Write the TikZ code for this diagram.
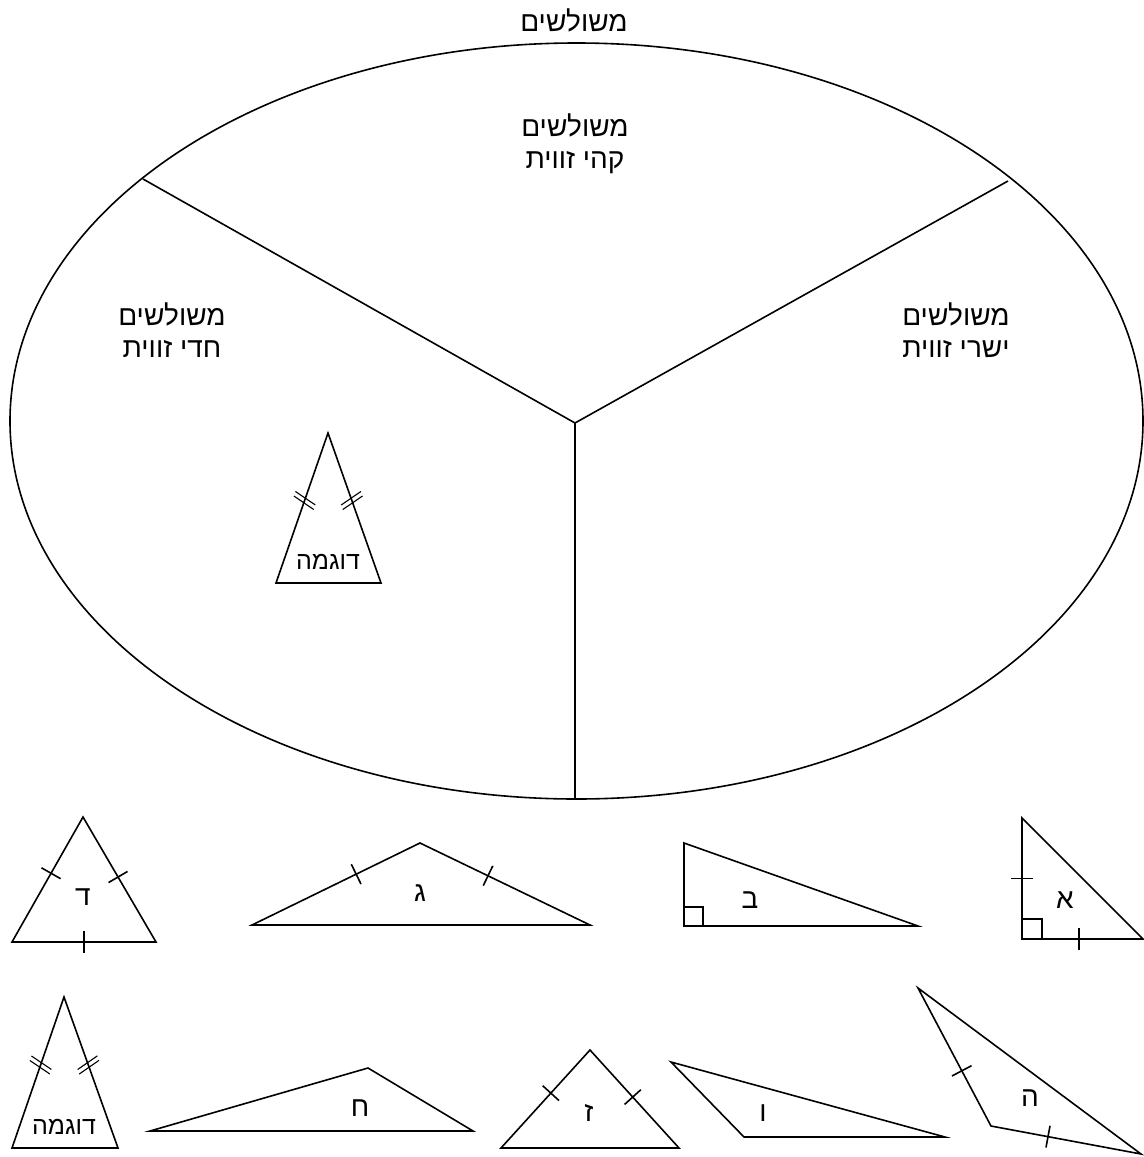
\documentclass[tikz,border=0pt]{standalone}
\usepackage{fontspec}
\setmainfont{Liberation Sans}
\newfontfamily\hebfont[Script=Hebrew]{Liberation Sans}
\TeXXeTstate=1
\usetikzlibrary{calc}

\newcommand{\heb}[1]{\beginR #1\endR}
% single and double side marks
\newcommand{\tickmark}[3]{\draw[shape line] ($(#1)!#3!(#2)!5.5pt!90:(#2)$) -- ($(#1)!#3!(#2)!5.5pt!-90:(#2)$);}
\newcommand{\dtickmark}[4]{%
  \draw[shape line, line width=0.55pt] ($(#1)!#3!(#2)!1.2pt!(#2)!6pt!#4:(#2)$) -- ($(#1)!#3!(#2)!1.2pt!(#2)!6pt!#4+180:(#2)$);
  \draw[shape line, line width=0.55pt] ($(#1)!#3!(#2)!-1.2pt!(#2)!6pt!#4:(#2)$) -- ($(#1)!#3!(#2)!-1.2pt!(#2)!6pt!#4+180:(#2)$);}

\tikzset{
  shape line/.style={line width=0.8pt, line join=miter},
  label text/.style={font=\hebfont\fontsize{14}{16}\selectfont, align=center, inner sep=0pt},
  example text/.style={font=\hebfont\fontsize{12.5}{14}\selectfont, inner sep=0pt},
}

\begin{document}
\begin{tikzpicture}[x=0.5pt, y=-0.5pt]
  \useasboundingbox (0,0) rectangle (1144,1157);

  % the big ellipse and its three parts
  \node[label text] (title) at (574,20) {\heb{משולשים}};
  \draw[shape line] (576.5,421) ellipse [x radius=283.25pt, y radius=189pt];
  \coordinate (hub) at (575,423);
  \coordinate (rimL) at (143,179);
  \coordinate (rimR) at (1008,181);
  \coordinate (rimB) at (575,799);
  \draw[shape line] (hub) -- (rimL);
  \draw[shape line] (hub) -- (rimR);
  \draw[shape line] (hub) -- (rimB);

  \node[label text] (obtuse) at (575,144) {\heb{משולשים}\\\heb{קהי זווית}};
  \node[label text] (acute) at (172,330) {\heb{משולשים}\\\heb{חדי זווית}};
  \node[label text] (right) at (956,330) {\heb{משולשים}\\\heb{ישרי זווית}};

  % example inside the ellipse
  \coordinate (e1) at (328,433);
  \coordinate (e2) at (276,583);
  \coordinate (e3) at (381,583);
  \draw[shape line] (e1) -- (e2) -- (e3) -- cycle;
  \dtickmark{e2}{e1}{0.55}{75}
  \dtickmark{e3}{e1}{0.55}{-75}
  \node[example text] (exampleA) at (328,562) {\heb{דוגמה}};

  % first row
  \coordinate (d1) at (83,817);
  \coordinate (d2) at (12,942);
  \coordinate (d3) at (156,942);
  \draw[shape line] (d1) -- (d2) -- (d3) -- cycle;
  \tickmark{d2}{d1}{0.55}
  \tickmark{d3}{d1}{0.52}
  \tickmark{d2}{d3}{0.5}
  \node[label text] (dalet) at (83,897) {\heb{ד}};

  \coordinate (g1) at (420,843);
  \coordinate (g2) at (252,925);
  \coordinate (g3) at (590,925);
  \draw[shape line] (g1) -- (g2) -- (g3) -- cycle;
  \tickmark{g2}{g1}{0.62}
  \tickmark{g3}{g1}{0.6}
  \node[label text] (gimel) at (420,893) {\heb{ג}};

  \coordinate (b1) at (684,843);
  \coordinate (b2) at (684,926);
  \coordinate (b3) at (918,926);
  \draw[shape line] (b1) -- (b2) -- (b3) -- cycle;
  \draw[shape line] (684,907) -- (703,907) -- (703,926);
  \node[label text] (bet) at (750,900) {\heb{ב}};

  \coordinate (a1) at (1022,818);
  \coordinate (a2) at (1022,939);
  \coordinate (a3) at (1143,939);
  \draw[shape line] (a1) -- (a2) -- (a3) -- cycle;
  \draw[shape line] (1022,919) -- (1042,919) -- (1042,939);
  \tickmark{a2}{a1}{0.5}
  \tickmark{a2}{a3}{0.47}
  \node[label text] (alef) at (1065,900) {\heb{א}};

  % second row
  \coordinate (x1) at (64,997);
  \coordinate (x2) at (12,1148);
  \coordinate (x3) at (118,1148);
  \draw[shape line] (x1) -- (x2) -- (x3) -- cycle;
  \dtickmark{x2}{x1}{0.55}{75}
  \dtickmark{x3}{x1}{0.55}{-75}
  \node[example text] (exampleB) at (64,1127) {\heb{דוגמה}};

  \coordinate (h1) at (368,1068);
  \coordinate (h2) at (150,1131);
  \coordinate (h3) at (473,1131);
  \draw[shape line] (h1) -- (h2) -- (h3) -- cycle;
  \node[label text] (het) at (360,1108) {\heb{ח}};

  \coordinate (z1) at (590,1050);
  \coordinate (z2) at (501,1148);
  \coordinate (z3) at (679,1148);
  \draw[shape line] (z1) -- (z2) -- (z3) -- cycle;
  \tickmark{z2}{z1}{0.56}
  \tickmark{z3}{z1}{0.52}
  \node[label text] (zayin) at (589,1113) {\heb{ז}};

  \coordinate (v1) at (671,1062);
  \coordinate (v2) at (744,1137);
  \coordinate (v3) at (945,1137);
  \draw[shape line] (v1) -- (v2) -- (v3) -- cycle;
  \node[label text] (vav) at (763,1113) {\heb{ו}};

  \coordinate (he1) at (918,988);
  \coordinate (he2) at (991,1126);
  \coordinate (he3) at (1141,1154);
  \draw[shape line] (he1) -- (he2) -- (he3) -- cycle;
  \tickmark{he1}{he2}{0.6}
  \tickmark{he2}{he3}{0.38}
  \node[label text] (hey) at (1030,1098) {\heb{ה}};
\end{tikzpicture}
\end{document}
